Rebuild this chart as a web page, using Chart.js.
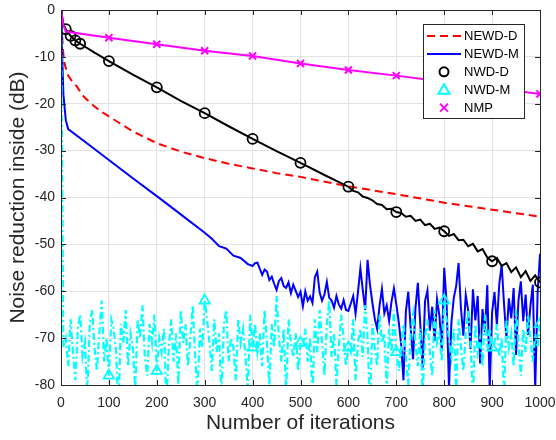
<!DOCTYPE html>
<html>
<head>
<meta charset="utf-8">
<script src="https://cdn.jsdelivr.net/npm/chart.js@4.4.1/dist/chart.umd.min.js"></script>
<style>
    html, body { margin: 0; padding: 0; background: #fff; }
    #contenedor { width: 556px; height: 440px; }
</style>
</head>
<body>
<div id="contenedor"><canvas id="graficaRuido" width="556" height="440"></canvas></div>
<script>
// ================= DATOS =================
// NEWD-D (curva suave)
const newdDIter = [0, 2, 5, 8, 15, 25, 33, 45, 61, 80, 100, 150, 200, 250, 300, 350, 400, 450, 500, 600, 700, 800, 900, 1000];
const newdDVal  = [0, -5, -9.6, -11.7, -14, -15.5, -16.3, -18.2, -19.8, -21.4, -22.7, -25.9, -28.4, -30.2, -31.6, -32.8, -33.8, -34.8, -35.6, -37.6, -39.3, -41.1, -42.6, -44.1];

// NEWD-M: tramo inicial + tramo ruidoso cada 5 iteraciones desde 400
const newdMIter = [0, 2, 5, 10, 15, 50, 100, 150, 200, 250, 300, 315, 330, 345, 360, 375, 390];
const newdMVal  = [0, -8, -18, -23.5, -25.4, -28.1, -32.0, -35.9, -39.7, -43.6, -47.5, -48.8, -50.4, -50.9, -52.4, -52.9, -54.2];
const newdMRuidoInicio = 400;
const newdMRuidoPaso = 5;
const newdMRuido = [
    -54.6, -54.0, -53.9, -55.2, -56.5, -55.4, -55.8, -57.6, -56.9, -58.4, -59.7, -57.8, -57.2, -58.9, -59.3, -58.1, -60.4, -58.6, -59.9, -61.2,
    -60.1, -63.2, -60.0, -62.0, -61.1, -62.5, -57.0, -55.8, -60.3, -62.0, -60.7, -58.0, -61.4, -62.0, -63.5, -61.0, -62.8, -63.7, -61.9, -64.0,
    -64.2, -62.6, -61.0, -64.8, -60.2, -55.1, -59.7, -64.0, -53.3, -58.6, -62.4, -65.8, -68.0, -63.1, -59.5, -64.7, -63.0, -66.3, -62.2, -59.4,
    -62.8, -66.5, -71.2, -79.0, -64.3, -60.1, -67.8, -74.5, -63.6, -58.2, -66.9, -76.3, -62.1, -59.8, -68.4, -63.3, -70.6, -61.7, -65.2, -72.8,
    -55.0, -62.3, -80.5, -66.8, -61.4, -58.9, -54.0, -63.7, -69.5, -60.8, -64.1, -72.3, -59.6, -66.2, -61.0, -75.4, -63.8, -68.7, -58.7, -80.8,
    -64.5, -60.2, -67.3, -58.4, -54.4, -62.9, -70.1, -61.5, -65.8, -59.3, -73.6, -62.0, -57.9, -66.4, -60.7, -69.3, -63.1, -58.6, -81.0, -60.4,
    -52.0
];

// NWD-D: tramo inicial + tramo con ruido leve cada 10 iteraciones desde 600
const nwdDIter = [0, 5, 10, 20, 30, 40, 70, 100, 150, 200, 250, 300, 350, 400, 450, 500, 550];
const nwdDVal  = [0, -3.0, -4.1, -5.5, -6.5, -7.2, -9.1, -10.9, -13.8, -16.5, -19.4, -22.0, -24.8, -27.5, -30.1, -32.6, -35.2];
const nwdDRuidoInicio = 600;
const nwdDRuidoPaso = 10;
const nwdDRuido = [
    -37.7, -38.6, -38.9, -39.8, -40.1, -40.6, -41.4, -41.6, -42.5, -42.4,
    -43.1, -43.3, -44.1, -43.9, -45.0, -44.7, -45.9, -45.6, -46.7, -46.4,
    -47.2, -48.2, -47.8, -49.1, -49.0, -50.4, -49.9, -51.5, -51.0, -52.8,
    -53.6, -52.9, -54.6, -54.0, -55.9, -54.9, -57.0, -55.7, -57.8, -56.6,
    -58.1
];
const nwdDMarcas = [10, 20, 30, 40, 100, 200, 300, 400, 500, 600, 700, 800, 900, 1000];

// NWD-M: caída inicial + ruido cada 5 iteraciones desde 10
const nwdMIter = [0, 5];
const nwdMVal  = [0, -72];
const nwdMRuidoInicio = 10;
const nwdMRuidoPaso = 5;
const nwdMRuido = [
    -70, -76, -66, -73, -79, -68, -65, -74, -71, -82, -67, -64, -72, -77, -69, -62, -75, -70, -78, -66,
    -68, -73, -85, -67, -71, -64, -76, -69, -72, -81, -66, -70, -63, -74, -78, -67, -71, -65, -77, -70,
    -73, -68, -84, -72, -66, -75, -69, -80, -64, -71, -67, -76, -70, -63, -74, -82, -68, -72, -62, -66,
    -71, -77, -66, -73, -69, -83, -67, -64, -75, -70, -72, -79, -66, -71, -68, -74, -81, -65, -72, -67,
    -73, -69, -76, -64, -71, -80, -67, -72, -61, -70, -75, -68, -82, -66, -71, -74, -69, -77, -71, -72,
    -68, -75, -70, -83, -66, -73, -64, -71, -78, -67, -62, -74, -69, -80, -72, -65, -70, -76, -72, -73,
    -66, -79, -71, -68, -74, -63, -70, -85, -67, -72, -76, -65, -71, -69, -81, -68, -73, -64, -73, -77,
    -72, -67, -74, -80, -69, -65, -71, -76, -68, -82, -70, -66, -73, -78, -64, -71, -69, -75, -62, -66,
    -70, -74, -68, -81, -66, -72, -77, -69, -64, -71, -83, -67, -73, -70, -76, -65, -72, -68, -72, -71,
    -67, -74, -70, -82, -66, -72, -69, -76, -64, -71, -78, -68, -73, -65, -70, -75, -69, -72, -67
];
const nwdMMarcas = [100, 200, 300, 400, 500, 600, 700, 800, 900, 1000];

// NMP
const nmpIter = [0, 5, 10, 100, 200, 300, 400, 500, 600, 700, 800, 900, 1000];
const nmpVal  = [0, -3.2, -4.6, -5.9, -7.3, -8.7, -9.8, -11.4, -12.8, -14.0, -15.3, -16.6, -17.9];
const nmpMarcas = [100, 200, 300, 400, 500, 600, 700, 800, 900, 1000];

// Ejes
const xTicks = [0, 100, 200, 300, 400, 500, 600, 700, 800, 900, 1000];
const yTicks = [-80, -70, -60, -50, -40, -30, -20, -10, 0];

// ================= UTILIDADES =================
const FUENTE = '"Liberation Sans", Arial, Helvetica, sans-serif';
const GRIS_EJE = '#262626';

const puntos = (xs, ys) => xs.map((x, i) => ({ x, y: ys[i] }));
const ruido = (inicio, paso, ys) => ys.map((y, i) => ({ x: inicio + i * paso, y }));
const radioMarca = (marcas, r) => ctx => (ctx.raw && marcas.includes(ctx.raw.x)) ? r : 0;

// Caja del eje con marcas hacia dentro
const cajaEjes = {
    id: 'cajaEjes',
    afterDatasetsDraw(chart) {
        const { ctx, chartArea: a, scales } = chart;
        ctx.save();
        ctx.strokeStyle = GRIS_EJE;
        ctx.lineWidth = 1;
        ctx.beginPath();
        xTicks.forEach(v => {
            const px = Math.round(scales.x.getPixelForValue(v)) + 0.5;
            ctx.moveTo(px, a.bottom); ctx.lineTo(px, a.bottom - 5);
            ctx.moveTo(px, a.top);    ctx.lineTo(px, a.top + 5);
        });
        yTicks.forEach(v => {
            const py = Math.round(scales.y.getPixelForValue(v)) + 0.5;
            ctx.moveTo(a.left, py);  ctx.lineTo(a.left + 5, py);
            ctx.moveTo(a.right, py); ctx.lineTo(a.right - 5, py);
        });
        ctx.stroke();
        ctx.strokeRect(Math.round(a.left) + 0.5, Math.round(a.top) + 0.5,
                       Math.round(a.right - a.left), Math.round(a.bottom - a.top));
        ctx.restore();
    }
};

// Leyenda dibujada a mano
const leyenda = {
    id: 'leyenda',
    afterDraw(chart) {
        const ctx = chart.ctx;
        const bx = 423.5, by = 24.5, bw = 101, bh = 94;
        const items = [
            { texto: 'NEWD-D', tipo: 'linea', color: '#ff0000', dash: [8, 5] },
            { texto: 'NEWD-M', tipo: 'linea', color: '#0000ff', dash: [] },
            { texto: 'NWD-D',  tipo: 'circulo', color: '#000000' },
            { texto: 'NWD-M',  tipo: 'triangulo', color: '#00ffff' },
            { texto: 'NMP',    tipo: 'cruz', color: '#ff00ff' }
        ];
        ctx.save();
        ctx.fillStyle = '#fff';
        ctx.fillRect(bx, by, bw, bh);
        ctx.strokeStyle = GRIS_EJE;
        ctx.lineWidth = 1;
        ctx.strokeRect(bx, by, bw, bh);

        items.forEach((it, i) => {
            const y = 36 + i * 17.9;
            const cx = 444;
            ctx.strokeStyle = it.color;
            ctx.lineWidth = 2;
            ctx.setLineDash([]);
            ctx.beginPath();
            if (it.tipo === 'linea') {
                ctx.setLineDash(it.dash);
                ctx.moveTo(427, y); ctx.lineTo(461, y);
            } else if (it.tipo === 'circulo') {
                ctx.arc(cx, y, 4.5, 0, Math.PI * 2);
            } else if (it.tipo === 'triangulo') {
                ctx.moveTo(cx, y - 5.5); ctx.lineTo(cx + 5.5, y + 4); ctx.lineTo(cx - 5.5, y + 4); ctx.closePath();
            } else {
                ctx.moveTo(cx - 4, y - 4); ctx.lineTo(cx + 4, y + 4);
                ctx.moveTo(cx + 4, y - 4); ctx.lineTo(cx - 4, y + 4);
            }
            ctx.stroke();
            ctx.setLineDash([]);
            ctx.fillStyle = '#000';
            ctx.font = '13px ' + FUENTE;
            ctx.textBaseline = 'middle';
            ctx.textAlign = 'left';
            ctx.fillText(it.texto, 464, y + 0.5);
        });
        ctx.restore();
    }
};

// ================= GRÁFICA =================
function dibujarGrafica() {
    new Chart(document.getElementById('graficaRuido'), {
        type: 'line',
        data: {
            datasets: [
                {
                    label: 'NEWD-D',
                    data: puntos(newdDIter, newdDVal),
                    borderColor: '#ff0000',
                    borderWidth: 2,
                    borderDash: [8, 5],
                    pointRadius: 0,
                    order: 5
                },
                {
                    label: 'NEWD-M',
                    data: puntos(newdMIter, newdMVal).concat(ruido(newdMRuidoInicio, newdMRuidoPaso, newdMRuido)),
                    borderColor: '#0000ff',
                    borderWidth: 2,
                    pointRadius: 0,
                    order: 4
                },
                {
                    label: 'NWD-D',
                    data: puntos(nwdDIter, nwdDVal).concat(ruido(nwdDRuidoInicio, nwdDRuidoPaso, nwdDRuido)),
                    borderColor: '#000000',
                    borderWidth: 2,
                    pointStyle: 'circle',
                    pointRadius: radioMarca(nwdDMarcas, 5),
                    pointBorderWidth: 1.8,
                    pointBorderColor: '#000000',
                    pointBackgroundColor: 'rgba(0,0,0,0)',
                    order: 3
                },
                {
                    label: 'NWD-M',
                    data: puntos(nwdMIter, nwdMVal).concat(ruido(nwdMRuidoInicio, nwdMRuidoPaso, nwdMRuido)),
                    borderColor: '#00ffff',
                    borderWidth: 2.2,
                    borderDash: [7, 3, 2, 3],
                    pointStyle: 'triangle',
                    pointRadius: radioMarca(nwdMMarcas, 6),
                    pointBorderWidth: 1.8,
                    pointBorderColor: '#00ffff',
                    pointBackgroundColor: 'rgba(0,0,0,0)',
                    order: 2
                },
                {
                    label: 'NMP',
                    data: puntos(nmpIter, nmpVal),
                    borderColor: '#ff00ff',
                    borderWidth: 2,
                    pointStyle: 'crossRot',
                    pointRadius: radioMarca(nmpMarcas, 5),
                    pointBorderWidth: 2,
                    pointBorderColor: '#ff00ff',
                    order: 1
                }
            ]
        },
        options: {
            responsive: false,
            animation: false,
            clip: 0,
            layout: { padding: { top: 10, right: 16, left: 0, bottom: 0 } },
            plugins: {
                legend: { display: false },
                tooltip: { enabled: false }
            },
            scales: {
                x: {
                    type: 'linear',
                    min: 0,
                    max: 1000,
                    afterBuildTicks: s => { s.ticks = xTicks.map(v => ({ value: v })); },
                    afterFit: s => {
                        s.height = 55;
                        s.paddingLeft = 0;
                        s.paddingRight = 0;
                    },
                    ticks: {
                        color: GRIS_EJE,
                        font: { family: FUENTE, size: 14 },
                        padding: 10,
                        maxRotation: 0,
                        callback: v => String(v)
                    },
                    grid: { color: '#e3e3e3', drawTicks: false },
                    border: { display: false },
                    title: {
                        display: true,
                        text: 'Number of iterations',
                        color: GRIS_EJE,
                        font: { family: FUENTE, size: 21 },
                        padding: { top: 0, bottom: 4 }
                    }
                },
                y: {
                    type: 'linear',
                    min: -80,
                    max: 0,
                    afterBuildTicks: s => { s.ticks = yTicks.map(v => ({ value: v })); },
                    afterFit: s => {
                        s.width = 61;
                        s.paddingTop = 0;
                        s.paddingBottom = 0;
                    },
                    ticks: {
                        color: GRIS_EJE,
                        font: { family: FUENTE, size: 14 },
                        padding: 6,
                        callback: v => String(v)
                    },
                    grid: { color: '#e3e3e3', drawTicks: false },
                    border: { display: false },
                    title: {
                        display: true,
                        text: 'Noise reduction inside (dB)',
                        color: GRIS_EJE,
                        font: { family: FUENTE, size: 21 },
                        padding: { top: 6, bottom: 0 }
                    }
                }
            }
        },
        plugins: [cajaEjes, leyenda]
    });
}

// ================= INICIO =================
document.addEventListener('DOMContentLoaded', dibujarGrafica);
</script>
</body>
</html>
